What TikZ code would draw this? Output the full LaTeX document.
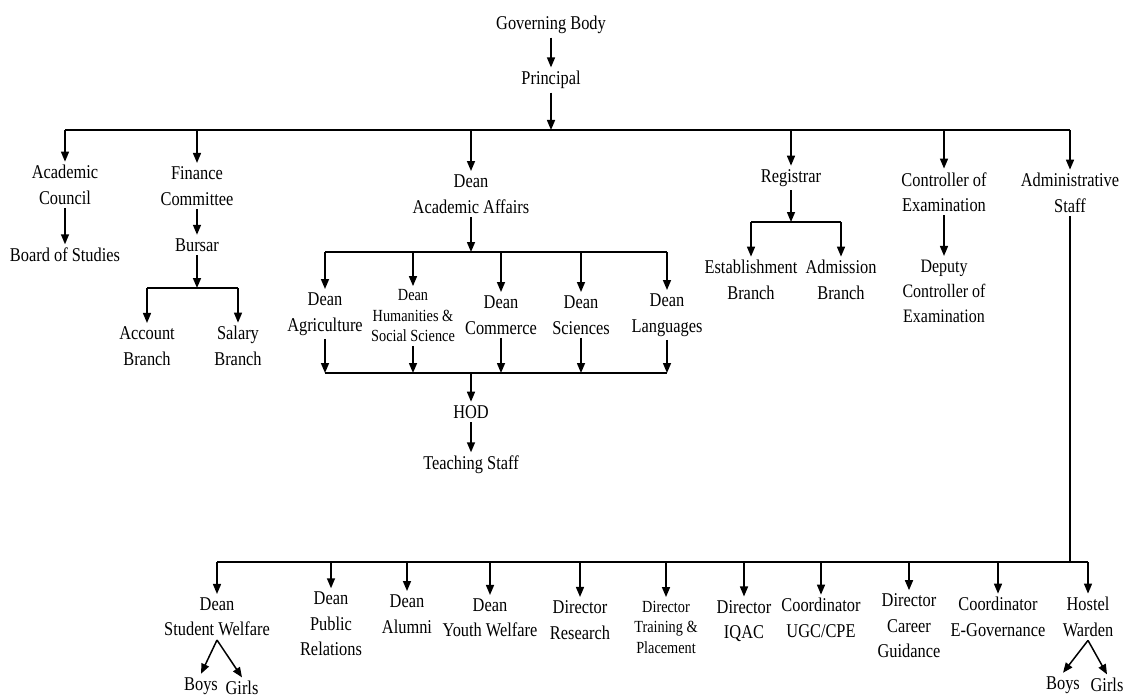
\documentclass[tikz,border=0pt]{standalone}
\usepackage{fontspec}
\setmainfont{Liberation Serif}[FakeStretch=0.84]
\usepackage{tikz}
\usetikzlibrary{arrows.meta, calc, positioning}

\begin{document}
\begin{tikzpicture}[x=1pt, y=-1pt, line width=1.5pt,
    >={Triangle[length=10pt,width=8pt]},
    lbl/.style={align=center, inner sep=3pt, font=\fontsize{19.5}{25.5}\selectfont},
    lblsmall/.style={lbl, font=\fontsize{17}{20.5}\selectfont}]
                    \useasboundingbox (0,0) rectangle (1126,698);

                    % top
                    \node[lbl] (gov) at (551, 25) {Governing Body};
                    \node[lbl] (prin) at (551, 80) {Principal};
                    \coordinate (top) at (551, 130);

                    \node[lbl] (acad) at (65, 185) {Academic\\Council};
                    \node[lbl] (bos) at (65, 255) {Board of Studies};
                    \node[lbl] (fin) at (197, 186) {Finance\\Committee};
                    \node[lbl] (bursar) at (197, 245) {Bursar};
                    \coordinate (finbar) at (197, 288);
                    \node[lbl] (acct) at (147, 346) {Account\\Branch};
                    \node[lbl] (salary) at (238, 346) {Salary\\Branch};

                    % academic affairs
                    \node[lbl] (daa) at (471, 194) {Dean\\Academic Affairs};
                    \coordinate (daabar) at (471, 252);
                    \node[lbl] (dagri) at (325, 314) {Dean\\Agriculture};
                    \node[lblsmall] (dhum) at (413, 316) {Dean\\Humanities \&\\Social Science};
                    \node[lbl] (dcom) at (501, 315) {Dean\\Commerce};
                    \node[lbl] (dsci) at (581, 315) {Dean\\Sciences};
                    \node[lbl] (dlang) at (667, 315) {Dean\\Languages};
                    \coordinate (hodbar) at (471, 373);
                    \node[lbl] (hod) at (471, 412) {HOD};
                    \node[lbl] (teach) at (471, 465) {Teaching Staff};

                    % right side
                    \node[lbl] (reg) at (791, 178) {Registrar};
                    \coordinate (regbar) at (791, 222);
                    \node[lbl] (estab) at (751, 280) {Establishment\\Branch};
                    \node[lbl] (admis) at (841, 280) {Admission\\Branch};
                    \node[lbl] (coe) at (944, 192) {Controller of\\Examination};
                    \node[lbl, font=\fontsize{19}{25}\selectfont] (dcoe) at (944, 291) {Deputy\\Controller of\\Examination};
                    \node[lbl] (admin) at (1070, 193) {Administrative\\Staff};
                    \coordinate (admbar) at (1070, 562);

                    % administrative staff row
                    \node[lbl] (dsw) at (217, 617) {Dean\\Student Welfare};
                    \node[lbl] (dpr) at (331, 624) {Dean\\Public\\Relations};
                    \node[lbl] (dalum) at (407, 614) {Dean\\Alumni};
                    \node[lbl] (dyw) at (490, 618) {Dean\\Youth Welfare};
                    \node[lbl] (dres) at (580, 620) {Director\\Research};
                    \node[lblsmall] (dtp) at (666, 627) {Director\\Training \&\\Placement};
                    \node[lbl] (diqac) at (744, 621) {Director\\IQAC};
                    \node[lbl] (cugc) at (821, 618) {Coordinator\\UGC/CPE};
                    \node[lbl] (dcg) at (909, 626) {Director\\Career\\Guidance};
                    \node[lbl] (cegov) at (998, 617) {Coordinator\\E-Governance};
                    \node[lbl] (warden) at (1088, 617) {Hostel\\Warden};
                    \node[lbl] (boys1) at (201, 686) {Boys};
                    \node[lbl] (girls1) at (242, 688) {Girls};
                    \node[lbl] (boys2) at (1063, 685) {Boys};
                    \node[lbl] (girls2) at (1107, 685) {Girls};

                    \draw[->] (gov) -- (prin);
                    \draw[->] (prin) -- (top);
                    \draw (acad |- top) -- (admin |- top);
                    \foreach \n in {acad, fin, daa, reg, coe, admin}
                        \draw[->] (\n |- top) -- (\n);

                    \draw[->] (acad) -- (bos);
                    \draw[->] (fin) -- (bursar);
                    \draw[->] (bursar) -- (finbar);
                    \draw (acct |- finbar) -- (salary |- finbar);
                    \foreach \n in {acct, salary}
                        \draw[->] (\n |- finbar) -- (\n);

                    \draw[->] (daa) -- (daabar);
                    \draw (dagri |- daabar) -- (dlang |- daabar);
                    \draw (dagri |- hodbar) -- (dlang |- hodbar);
                    \foreach \n in {dagri, dhum, dcom, dsci, dlang} {
                        \draw[->] (\n |- daabar) -- (\n);
                        \draw[->] (\n) -- (\n |- hodbar);
                    }
                    \draw[->] (hodbar) -- (hod);
                    \draw[->] (hod) -- (teach);

                    \draw[->] (reg) -- (regbar);
                    \draw (estab |- regbar) -- (admis |- regbar);
                    \foreach \n in {estab, admis}
                        \draw[->] (\n |- regbar) -- (\n);
                    \draw[->] (coe) -- (dcoe);

                    \draw (admin) -- (admbar);
                    \draw (dsw |- admbar) -- (warden |- admbar);
                    \foreach \n in {dsw, dpr, dalum, dyw, dres, dtp, diqac, cugc, dcg, cegov, warden}
                        \draw[->] (\n |- admbar) -- (\n);
                    \draw[->] (dsw.south) -- (boys1.north);
                    \draw[->] (dsw.south) -- (girls1.north);
                    \draw[->] (warden.south) -- (boys2.north);
                    \draw[->] (warden.south) -- (girls2.north);
                \end{tikzpicture}
\end{document}
